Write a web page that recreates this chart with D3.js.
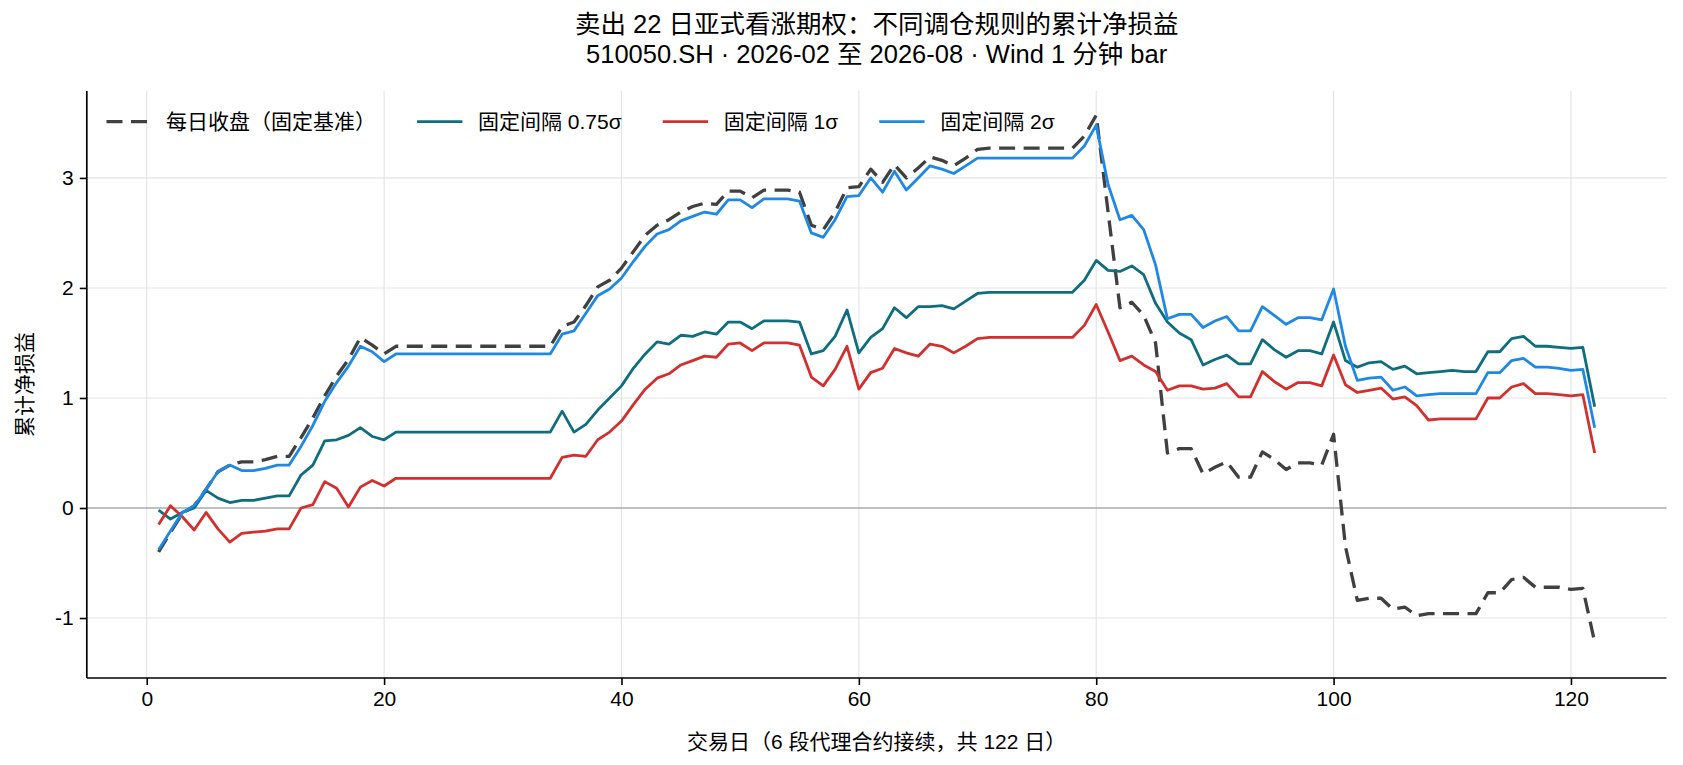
<!DOCTYPE html>
<html>
<head>
<meta charset="utf-8">
<script src="https://cdn.jsdelivr.net/npm/d3@7"></script>
<style>
	html, body { margin: 0; padding: 0; background: #fff; }
	svg { display: block; font-family: "Liberation Sans", Arial, "Noto Sans CJK SC", sans-serif; }
</style>
</head>
<body>
<svg id="chart" width="1683" height="765"></svg>
<script>
// trading days 1..122 (6 proxy contracts rolled together)
var days = d3.range(1, 123);

var seriesNames = ["每日收盘（固定基准）", "固定间隔 0.75σ", "固定间隔 1σ", "固定间隔 2σ"];
var seriesColours = ["#404040", "#0f6e7e", "#d32f2f", "#1e88e5"];

var dailyClose = [
	-0.40, -0.22, -0.05, 0.02, 0.17, 0.33, 0.39, 0.42, 0.42, 0.44,
	0.47, 0.47, 0.64, 0.82, 1.02, 1.20, 1.35, 1.55, 1.48, 1.40,
	1.47, 1.47, 1.47, 1.47, 1.47, 1.47, 1.47, 1.47, 1.47, 1.47,
	1.47, 1.47, 1.47, 1.47, 1.65, 1.69, 1.84, 2.01, 2.07, 2.18,
	2.33, 2.48, 2.57, 2.62, 2.69, 2.74, 2.77, 2.76, 2.88, 2.88,
	2.82, 2.89, 2.89, 2.89, 2.87, 2.57, 2.53, 2.69, 2.91, 2.92,
	3.08, 2.96, 3.12, 3.00, 3.09, 3.19, 3.16, 3.11, 3.18, 3.26,
	3.27, 3.27, 3.27, 3.27, 3.27, 3.27, 3.27, 3.27, 3.38, 3.57,
	2.69, 1.82, 1.87, 1.75, 1.50, 0.50, 0.54, 0.54, 0.31, 0.37,
	0.42, 0.28, 0.28, 0.51, 0.44, 0.35, 0.41, 0.41, 0.39, 0.67,
	-0.35, -0.84, -0.82, -0.82, -0.92, -0.90, -0.98, -0.96, -0.96, -0.96,
	-0.96, -0.96, -0.77, -0.77, -0.65, -0.63, -0.72, -0.72, -0.72, -0.74,
	-0.73, -1.22
];

var fixed075 = [
	-0.02, -0.10, -0.04, 0.00, 0.16, 0.09, 0.05, 0.07, 0.07, 0.09,
	0.11, 0.11, 0.30, 0.39, 0.61, 0.62, 0.66, 0.73, 0.65, 0.62,
	0.69, 0.69, 0.69, 0.69, 0.69, 0.69, 0.69, 0.69, 0.69, 0.69,
	0.69, 0.69, 0.69, 0.69, 0.88, 0.69, 0.76, 0.89, 1.00, 1.11,
	1.27, 1.40, 1.51, 1.49, 1.57, 1.56, 1.60, 1.58, 1.69, 1.69,
	1.63, 1.70, 1.70, 1.70, 1.69, 1.40, 1.43, 1.56, 1.80, 1.41,
	1.55, 1.63, 1.82, 1.73, 1.83, 1.83, 1.84, 1.81, 1.88, 1.95,
	1.96, 1.96, 1.96, 1.96, 1.96, 1.96, 1.96, 1.96, 2.07, 2.25,
	2.16, 2.15, 2.20, 2.12, 1.86, 1.69, 1.59, 1.53, 1.30, 1.35,
	1.39, 1.31, 1.31, 1.53, 1.44, 1.37, 1.43, 1.43, 1.40, 1.69,
	1.34, 1.28, 1.32, 1.33, 1.26, 1.29, 1.22, 1.23, 1.24, 1.25,
	1.24, 1.24, 1.42, 1.42, 1.54, 1.56, 1.47, 1.47, 1.46, 1.45,
	1.46, 0.92
];

var fixed1 = [
	-0.15, 0.02, -0.08, -0.20, -0.04, -0.19, -0.31, -0.23, -0.22, -0.21,
	-0.19, -0.19, 0.00, 0.03, 0.24, 0.18, 0.01, 0.19, 0.25, 0.20,
	0.27, 0.27, 0.27, 0.27, 0.27, 0.27, 0.27, 0.27, 0.27, 0.27,
	0.27, 0.27, 0.27, 0.27, 0.46, 0.48, 0.47, 0.62, 0.69, 0.79,
	0.94, 1.08, 1.18, 1.22, 1.30, 1.34, 1.38, 1.37, 1.49, 1.50,
	1.43, 1.50, 1.50, 1.50, 1.48, 1.19, 1.11, 1.26, 1.47, 1.08,
	1.23, 1.27, 1.45, 1.41, 1.38, 1.49, 1.47, 1.41, 1.47, 1.54,
	1.55, 1.55, 1.55, 1.55, 1.55, 1.55, 1.55, 1.55, 1.66, 1.85,
	1.60, 1.34, 1.38, 1.30, 1.24, 1.07, 1.11, 1.11, 1.08, 1.09,
	1.13, 1.01, 1.01, 1.24, 1.15, 1.08, 1.14, 1.14, 1.11, 1.39,
	1.12, 1.05, 1.07, 1.09, 0.99, 1.01, 0.93, 0.80, 0.81, 0.81,
	0.81, 0.81, 1.00, 1.00, 1.10, 1.13, 1.04, 1.04, 1.03, 1.02,
	1.03, 0.50
];

var fixed2 = [
	-0.38, -0.21, -0.04, 0.02, 0.17, 0.33, 0.39, 0.34, 0.34, 0.36,
	0.39, 0.39, 0.56, 0.75, 0.97, 1.14, 1.29, 1.47, 1.42, 1.33,
	1.40, 1.40, 1.40, 1.40, 1.40, 1.40, 1.40, 1.40, 1.40, 1.40,
	1.40, 1.40, 1.40, 1.40, 1.58, 1.61, 1.77, 1.93, 1.99, 2.09,
	2.24, 2.38, 2.49, 2.53, 2.61, 2.65, 2.69, 2.67, 2.80, 2.80,
	2.73, 2.81, 2.81, 2.81, 2.79, 2.50, 2.46, 2.62, 2.83, 2.84,
	3.00, 2.87, 3.06, 2.89, 3.00, 3.11, 3.08, 3.04, 3.11, 3.18,
	3.18, 3.18, 3.18, 3.18, 3.18, 3.18, 3.18, 3.18, 3.29, 3.48,
	2.94, 2.62, 2.66, 2.53, 2.21, 1.72, 1.76, 1.76, 1.64, 1.70,
	1.74, 1.61, 1.61, 1.83, 1.75, 1.67, 1.73, 1.73, 1.71, 1.99,
	1.47, 1.16, 1.18, 1.19, 1.07, 1.10, 1.02, 1.03, 1.04, 1.04,
	1.04, 1.04, 1.23, 1.23, 1.34, 1.36, 1.28, 1.28, 1.27, 1.25,
	1.26, 0.73
];

var xTicks = [0, 20, 40, 60, 80, 100, 120];
var yTicks = [-1, 0, 1, 2, 3];

var titleLines = ["卖出 22 日亚式看涨期权：不同调仓规则的累计净损益",
	"510050.SH · 2026-02 至 2026-08 · Wind 1 分钟 bar"];
var xLabel = "交易日（6 段代理合约接续，共 122 日）";
var yLabel = "累计净损益";

(function () {
	var series = [dailyClose, fixed075, fixed1, fixed2].map((vals, i) => ({
		name: seriesNames[i],
		colour: seriesColours[i],
		dashed: i === 0,
		values: vals.map((v, j) => ({ day: days[j], v: v }))
	}));

	var svg = d3.select("#chart");

	var plotLeft = 86.8, plotRight = 1666.5, plotTop = 91, plotBottom = 678;

	var x = d3.scaleLinear().domain([-5.05, 128.05]).range([plotLeft, plotRight]);
	var y = d3.scaleLinear().domain([-1.545, 3.79]).range([plotBottom, plotTop]);

	// grid
	var grid = svg.append("g").attr("class", "grid");
	grid.selectAll("line.gx")
		.data(xTicks)
		.join("line")
		.attr("class", "gx")
		.attr("x1", d => x(d)).attr("x2", d => x(d))
		.attr("y1", plotTop).attr("y2", plotBottom)
		.attr("stroke", "#e4e4e4")
		.attr("stroke-width", 1.1);
	grid.selectAll("line.gy")
		.data(yTicks)
		.join("line")
		.attr("class", "gy")
		.attr("x1", plotLeft).attr("x2", plotRight)
		.attr("y1", d => y(d)).attr("y2", d => y(d))
		.attr("stroke", "#e4e4e4")
		.attr("stroke-width", 1.1);

	// zero line
	svg.append("line")
		.attr("x1", plotLeft).attr("x2", plotRight)
		.attr("y1", y(0)).attr("y2", y(0))
		.attr("stroke", "#aaaeb5")
		.attr("stroke-width", 1.4);

	var line = d3.line()
		.x(d => x(d.day))
		.y(d => y(d.v));

	svg.append("g")
		.selectAll("path")
		.data(series)
		.join("path")
		.attr("d", d => line(d.values))
		.attr("fill", "none")
		.attr("stroke", d => d.colour)
		.attr("stroke-width", d => d.dashed ? 3.3 : 2.8)
		.attr("stroke-dasharray", d => d.dashed ? "16,8.5" : null)
		.attr("stroke-linejoin", "round");

	// axes
	var xAxis = g => g
		.attr("transform", `translate(0,${plotBottom})`)
		.call(d3.axisBottom(x).tickValues(xTicks).tickFormat(d3.format("d")).tickSize(7).tickPadding(6))
		.call(g => g.select(".domain").attr("d", `M${plotLeft},0H${plotRight}`));

	var yAxis = g => g
		.attr("transform", `translate(${plotLeft},0)`)
		.call(d3.axisLeft(y).tickValues(yTicks).tickFormat(d => String(d)).tickSize(7).tickPadding(6))
		.call(g => g.select(".domain").attr("d", `M0,${plotTop}V${plotBottom}`));

	[svg.append("g").call(xAxis), svg.append("g").call(yAxis)].forEach(g => {
		g.attr("font-family", null).attr("font-size", null);
		g.select(".domain").attr("stroke", "#000").attr("stroke-width", 1.7);
		g.selectAll(".tick line").attr("stroke", "#000").attr("stroke-width", 1.6);
		g.selectAll(".tick text").attr("fill", "#000").style("font-size", "21px");
	});

	// labels
	svg.append("text")
		.attr("x", (plotLeft + plotRight) / 2)
		.attr("y", 741)
		.attr("text-anchor", "middle")
		.attr("dominant-baseline", "central")
		.style("font-size", "21px")
		.text(xLabel);

	svg.append("text")
		.attr("transform", `translate(24,${(plotTop + plotBottom) / 2}) rotate(-90)`)
		.attr("text-anchor", "middle")
		.attr("dominant-baseline", "central")
		.style("font-size", "21px")
		.text(yLabel);

	svg.append("g")
		.selectAll("text")
		.data(titleLines)
		.join("text")
		.attr("x", (plotLeft + plotRight) / 2)
		.attr("y", (d, i) => 24 + i * 30)
		.attr("text-anchor", "middle")
		.attr("dominant-baseline", "central")
		.style("font-size", "25.5px")
		.text(d => d);

	// legend, one row, laid out like matplotlib (handle 2em, pad 0.8em, column gap 2em)
	var fs = 21.25, legY = 121.7, cursor = 106.5;
	var leg = svg.append("g").attr("class", "legend");
	series.forEach(s => {
		leg.append("line")
			.attr("x1", cursor).attr("x2", cursor + 2 * fs)
			.attr("y1", legY).attr("y2", legY)
			.attr("stroke", s.colour)
			.attr("stroke-width", s.dashed ? 3.3 : 2.8)
			.attr("stroke-dasharray", s.dashed ? "16,8.5" : null)
			.attr("stroke-linecap", s.dashed ? "butt" : "square");
		var t = leg.append("text")
			.attr("x", cursor + 2 * fs + 0.8 * fs)
			.attr("y", legY)
			.attr("dominant-baseline", "central")
			.style("font-size", "21px")
			.text(s.name);
		cursor += 2 * fs + 0.8 * fs + t.node().getComputedTextLength() + 2 * fs;
	});
})();
</script>
</body>
</html>
